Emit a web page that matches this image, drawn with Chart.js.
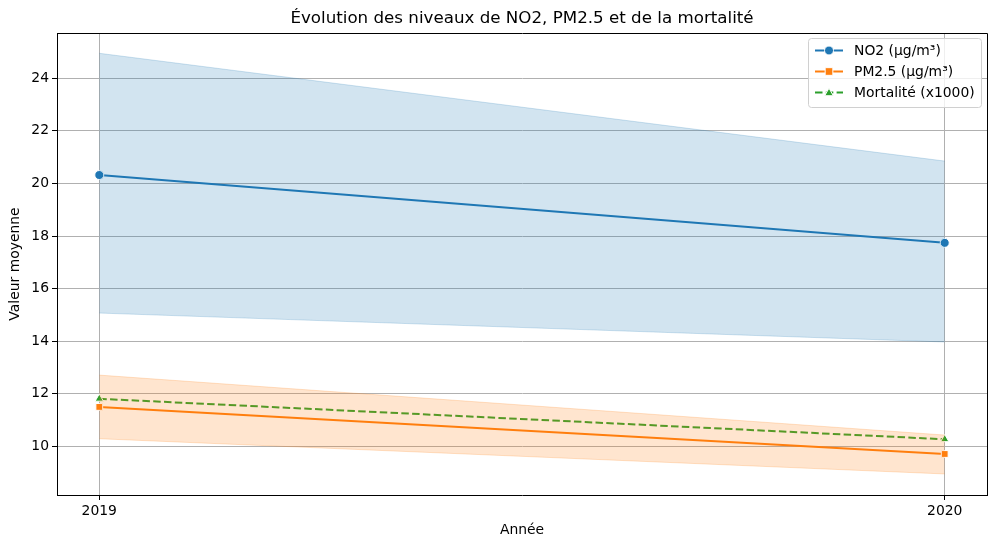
<!DOCTYPE html>
<html><head><meta charset="utf-8">
<script src="https://cdn.jsdelivr.net/npm/chart.js@4/dist/chart.umd.min.js"></script>
<style>html,body{margin:0;padding:0;background:#fff;}#wrap{width:997px;height:548px;}</style>
</head><body><div id="wrap"><canvas id="c" width="997" height="548"></canvas></div>
<script>
const years = [2019, 2020];
const no2 = [20.32, 17.74];
const no2Upper = [24.95, 20.85];
const no2Lower = [15.07, 13.97];
const pm25 = [11.50, 9.71];
const pm25Upper = [12.71, 10.43];
const pm25Lower = [10.29, 8.95];
const mortality = [11.81, 10.27];
const yTicks = [10, 12, 14, 16, 18, 20, 22, 24];
const xTicks = [2019, 2020];

const pts = arr => years.map((x, i) => ({x: x, y: arr[i]}));
const FONT = 'DejaVu Sans';

const datasets = [
  {label: 'no2U', data: pts(no2Upper), borderColor: 'rgba(31,119,180,0.2)', borderWidth: 1, backgroundColor: 'rgba(31,119,180,0.2)', fill: '+1', pointRadius: 0, band: true},
  {label: 'no2L', data: pts(no2Lower), borderColor: 'rgba(31,119,180,0.2)', borderWidth: 1, pointRadius: 0, fill: false, band: true},
  {label: 'pmU', data: pts(pm25Upper), borderColor: 'rgba(255,127,14,0.2)', borderWidth: 1, backgroundColor: 'rgba(255,127,14,0.2)', fill: '+1', pointRadius: 0, band: true},
  {label: 'pmL', data: pts(pm25Lower), borderColor: 'rgba(255,127,14,0.2)', borderWidth: 1, pointRadius: 0, fill: false, band: true},
  {label: 'NO2 (µg/m³)', data: pts(no2), borderColor: '#1f77b4', backgroundColor: '#1f77b4', borderWidth: 2, pointStyle: 'circle', pointRadius: 4.5, pointBorderColor: '#fff', pointBorderWidth: 1, fill: false},
  {label: 'PM2.5 (µg/m³)', data: pts(pm25), borderColor: '#ff7f0e', backgroundColor: '#ff7f0e', borderWidth: 2, pointStyle: 'rect', pointRadius: 4.8, pointBorderColor: '#fff', pointBorderWidth: 1, fill: false},
  {label: 'Mortalité (x1000)', data: pts(mortality), borderColor: '#2ca02c', backgroundColor: '#2ca02c', borderWidth: 2, borderDash: [7.5, 3.3], pointStyle: 'triangle', pointRadius: 4.8, pointBorderColor: '#fff', pointBorderWidth: 1, fill: false}
];

const legendPlugin = {
  id: 'mplLegend',
  afterDraw(chart) {
    const ctx = chart.ctx;
    const a = chart.chartArea;
    // top/right spines
    ctx.save();
    ctx.strokeStyle = '#000'; ctx.lineWidth = 1;
    ctx.beginPath();
    ctx.moveTo(Math.round(a.left) + 0.5, Math.round(a.top) + 0.5);
    ctx.lineTo(Math.round(a.right) + 0.5, Math.round(a.top) + 0.5);
    ctx.lineTo(Math.round(a.right) + 0.5, Math.round(a.bottom) + 0.5);
    ctx.stroke();
    ctx.restore();

    const items = chart.data.datasets.filter(d => !d.band);
    const x0 = 808.5, y0 = 38.5, w = 173, h = 69;
    ctx.save();
    ctx.beginPath();
    const r = 3;
    ctx.moveTo(x0 + r, y0);
    ctx.arcTo(x0 + w, y0, x0 + w, y0 + h, r);
    ctx.arcTo(x0 + w, y0 + h, x0, y0 + h, r);
    ctx.arcTo(x0, y0 + h, x0, y0, r);
    ctx.arcTo(x0, y0, x0 + w, y0, r);
    ctx.closePath();
    ctx.fillStyle = 'rgba(255,255,255,0.8)';
    ctx.fill();
    ctx.strokeStyle = '#d0d0d0';
    ctx.lineWidth = 1;
    ctx.stroke();
    const rows = [50.5, 71.5, 92.5];
    items.forEach((d, i) => {
      const y = rows[i];
      ctx.strokeStyle = d.borderColor;
      ctx.lineWidth = 2;
      ctx.setLineDash(d.borderDash || []);
      ctx.beginPath(); ctx.moveTo(815, y); ctx.lineTo(843, y); ctx.stroke();
      ctx.setLineDash([]);
      ctx.fillStyle = d.backgroundColor;
      ctx.strokeStyle = '#fff';
      ctx.lineWidth = 1;
      ctx.beginPath();
      if (d.pointStyle === 'circle') { ctx.arc(829, y, d.pointRadius, 0, Math.PI * 2); }
      else if (d.pointStyle === 'rect') { const s = d.pointRadius * 0.8; ctx.rect(829 - s, y - s, 2 * s, 2 * s); }
      else { const s = d.pointRadius * 0.9; ctx.moveTo(829, y - s); ctx.lineTo(829 + s, y + s * 0.75); ctx.lineTo(829 - s, y + s * 0.75); ctx.closePath(); }
      ctx.fill(); ctx.stroke();
      ctx.fillStyle = '#000';
      ctx.font = '13.9px "' + FONT + '"';
      ctx.textBaseline = 'middle';
      ctx.textAlign = 'left';
      ctx.fillText(d.label, 854, y + 1);
    });
    ctx.restore();
  }
};

new Chart(document.getElementById('c'), {
  type: 'line',
  data: {datasets: datasets},
  plugins: [legendPlugin],
  options: {
    responsive: false,
    animation: false,
    devicePixelRatio: 1,
    layout: {padding: {left: 0, right: 10, top: 0, bottom: 0}},
    elements: {line: {tension: 0}},
    plugins: {
      legend: {display: false},
      tooltip: {enabled: false},
      title: {display: true, fullSize: false, text: 'Évolution des niveaux de NO2, PM2.5 et de la mortalité', color: '#000',
        font: {family: FONT, size: 16.7, weight: 'normal'}, padding: {top: 9, bottom: 4}}
    },
    scales: {
      x: {
        type: 'linear', min: 2018.95, max: 2020.05,
        afterBuildTicks: s => { s.ticks = xTicks.map(v => ({value: v})); },
        afterFit: s => { s.height = 53; },
        ticks: {color: '#000', font: {family: FONT, size: 13.9}, padding: 3, callback: v => String(v), maxRotation: 0},
        grid: {color: '#b0b0b0', lineWidth: 1, tickLength: 5, tickColor: '#000', drawOnChartArea: true},
        border: {color: '#000', width: 1},
        title: {display: true, text: 'Année', color: '#000', font: {family: FONT, size: 13.9}, padding: {top: 0, bottom: 9}}
      },
      y: {
        type: 'linear', min: 8.15, max: 25.72,
        afterBuildTicks: s => { s.ticks = yTicks.map(v => ({value: v})); },
        afterFit: s => { s.width = 57; },
        ticks: {color: '#000', font: {family: FONT, size: 13.9}, padding: 3},
        grid: {color: '#b0b0b0', lineWidth: 1, tickLength: 5, tickColor: '#000'},
        border: {color: '#000', width: 1},
        title: {display: true, text: 'Valeur moyenne', color: '#000', font: {family: FONT, size: 13.9}, padding: {top: 7, bottom: 0}}
      }
    }
  },
});
</script>
</body></html>
